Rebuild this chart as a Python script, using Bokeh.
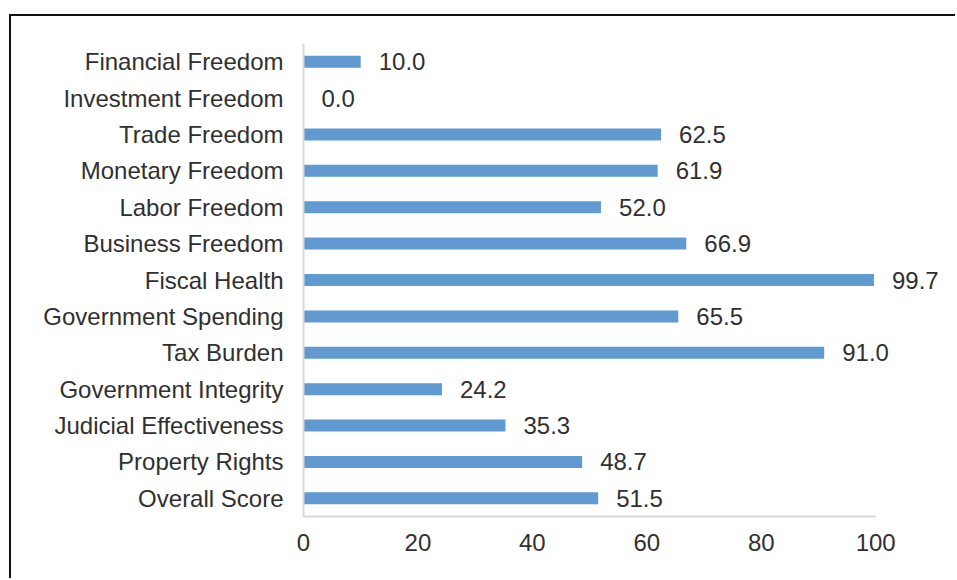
from bokeh.plotting import figure
from bokeh.models import ColumnDataSource, LabelSet, FixedTicker, Range1d
from bokeh.core.properties import value
from bokeh.embed import file_html
from bokeh.resources import INLINE

categories = ["Overall Score", "Property Rights", "Judicial Effectiveness", "Government Integrity",
              "Tax Burden", "Government Spending", "Fiscal Health", "Business Freedom",
              "Labor Freedom", "Monetary Freedom", "Trade Freedom", "Investment Freedom",
              "Financial Freedom"]
scores = [51.5, 48.7, 35.3, 24.2, 91.0, 65.5, 99.7, 66.9, 52.0, 61.9, 62.5, 0.0, 10.0]
x_ticks = [0, 20, 40, 60, 80, 100]

FONT = "Liberation Sans"
FS = "24px"
TXT = "#303030"

src = ColumnDataSource(dict(cat=categories, val=scores, lab=[f"{v:.1f}" for v in scores]))

p = figure(y_range=categories, x_range=Range1d(0, 112.2), width=946, height=564,
           output_backend="svg", toolbar_location=None,
           min_border_left=292, min_border_right=12, min_border_top=27, min_border_bottom=64)
p.outline_line_color = None
p.xgrid.visible = False
p.ygrid.visible = False
p.y_range.range_padding = 0

p.hbar(y="cat", right="val", left=0, height=0.33, source=src, color="#6199D1", line_color=None)

labels = LabelSet(x="val", y="cat", text="lab", source=src, x_offset=18,
                  text_baseline="middle", text_align="left",
                  text_font=value(FONT), text_font_size=value(FS), text_color=TXT)
p.add_layout(labels)

xa = p.xaxis[0]
xa.ticker = FixedTicker(ticks=x_ticks)
xa.bounds = (0, 100)
xa.axis_line_color = "#d9d9d9"
xa.axis_line_width = 2
xa.major_tick_out = 0
xa.major_tick_in = 0
xa.minor_tick_out = 0
xa.minor_tick_in = 0
xa.major_label_standoff = 17
xa.major_label_text_font = FONT
xa.major_label_text_font_size = FS
xa.major_label_text_color = TXT

ya = p.yaxis[0]
ya.axis_line_color = "#d9d9d9"
ya.axis_line_width = 2
ya.major_tick_out = 0
ya.major_tick_in = 0
ya.minor_tick_out = 0
ya.minor_tick_in = 0
ya.major_label_standoff = 20
ya.major_label_text_font = FONT
ya.major_label_text_font_size = FS
ya.major_label_text_color = TXT

p.styles = {"border-top": "2px solid #111111", "border-left": "2px solid #111111",
            "margin-top": "14px", "margin-left": "9px"}

open("out.html", "w").write(file_html(p, INLINE))
